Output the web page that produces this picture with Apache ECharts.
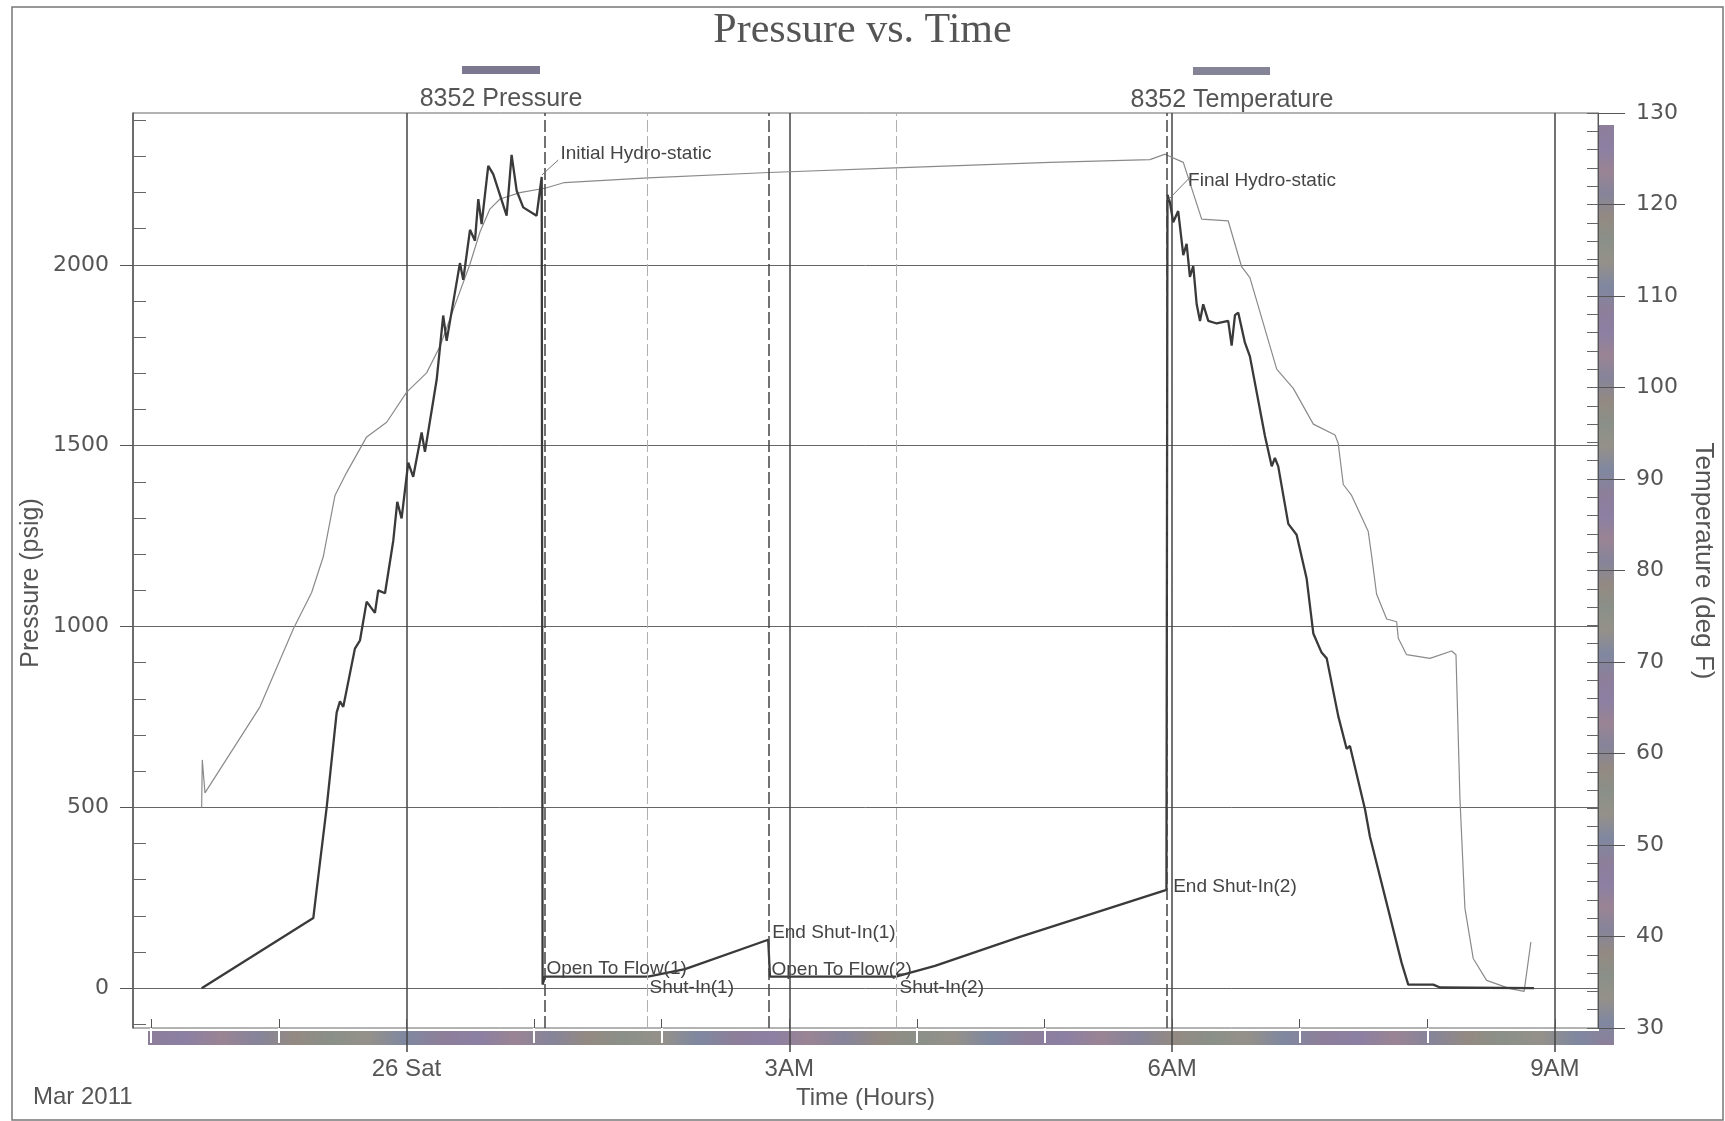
<!DOCTYPE html>
<html><head><meta charset="utf-8">
<script src="https://cdn.jsdelivr.net/npm/echarts/dist/echarts.min.js"></script>
<style>html,body{margin:0;padding:0;background:#fff}#c{width:1725px;height:1121px}</style>
</head><body><div id="c"></div>
<script>
// ---- time in hours relative to 26 Mar 2011 00:00 ----
const pressureTime = [-1.605,-0.730,-0.704,-0.625,-0.547,-0.521,-0.495,-0.404,-0.364,-0.312,-0.247,-0.221,-0.168,-0.103,-0.072,-0.038,0.014,0.053,0.119,0.145,0.237,0.288,0.315,0.419,0.445,0.498,0.537,0.563,0.589,0.641,0.680,0.785,0.824,0.864,0.915,1.020,1.060,1.067,1.085,1.893,2.183,2.835,2.849,3.836,4.142,4.808,5.956,5.964,5.984,6.009,6.048,6.088,6.114,6.140,6.166,6.193,6.219,6.244,6.284,6.350,6.440,6.467,6.493,6.519,6.571,6.610,6.728,6.781,6.806,6.832,6.911,6.976,7.055,7.107,7.172,7.212,7.302,7.368,7.394,7.512,7.551,7.799,7.851,8.047,8.100,8.836];
const pressureValue = [0,194,271,501,762,793,778,939,962,1069,1038,1100,1092,1238,1345,1299,1453,1414,1537,1483,1683,1860,1790,2005,1959,2097,2067,2182,2113,2274,2251,2136,2304,2205,2159,2136,2243,10,32,32,53,134,32,32,62,142,272,2194,2172,2118,2149,2027,2058,1967,1997,1891,1845,1891,1845,1838,1845,1777,1861,1868,1785,1747,1527,1443,1466,1443,1284,1254,1132,981,928,912,753,662,670,495,419,70,10,10,2,0];

const tempTime = [-1.605,-1.600,-1.579,-1.148,-0.887,-0.743,-0.652,-0.560,-0.469,-0.312,-0.155,0.002,0.158,0.263,0.380,0.498,0.576,0.654,0.733,0.889,1.093,1.238,1.893,2.841,3.828,5.043,5.827,5.945,6.088,6.232,6.440,6.545,6.610,6.820,6.950,7.107,7.277,7.302,7.342,7.407,7.537,7.564,7.603,7.682,7.760,7.773,7.838,8.021,8.191,8.225,8.256,8.295,8.360,8.465,8.647,8.759,8.812];
const tempValue = [54.1,59.3,55.7,65.1,73.6,77.6,81.5,88.2,90.7,94.6,96.2,99.5,101.6,104.5,109.0,113.5,117.0,119.5,120.6,121.3,121.8,122.4,122.9,123.5,124.0,124.6,124.9,125.5,124.6,118.4,118.2,113.2,112.0,102.0,99.9,96.0,94.8,93.9,89.4,88.2,84.3,81.6,77.4,74.7,74.4,72.6,70.8,70.4,71.2,70.8,55.1,43.1,37.6,35.2,34.3,34.0,39.4];

// test events (vertical dashed lines)
const eventNames = ['Open To Flow(1)','Shut-In(1)','End Shut-In(1)','Shut-In(2)','End Shut-In(2)'];
const eventTimes = [1.085,1.893,2.844,3.836,5.960];

// annotation texts and anchors (hours, psig)
const annotLabels = ['Initial Hydro-static','Final Hydro-static','Open To Flow(1)','Shut-In(1)','End Shut-In(1)','Open To Flow(2)','Shut-In(2)','End Shut-In(2)'];
const annotTimes  = [1.195,6.114,1.085,1.893,2.854,2.849,3.852,5.997];
const annotValues = [2306,2234,54,2,152,52,2,281];
// leader lines: from data point to label
const leaderFromTime = [1.062,5.970], leaderFromValue = [2249,2180];
const leaderToTime   = [1.190,6.154], leaderToValue   = [2290,2247];

// axis ticks / labels
const xLabelValues = [0,3,6,9];
const xLabelTexts  = ['26 Sat','3AM','6AM','9AM'];
const xHourTicks   = [-2,-1,0,1,2,3,4,5,6,7,8,9];
const xGapTicks    = [-2,-1,1,2,4,5,7,8];
const pressureLabels = [0,500,1000,1500,2000];
const tempLabels = [30,40,50,60,70,80,90,100,110,120,130];

function range(a,b,s){const r=[];for(let v=a;v<=b+1e-9;v+=s)r.push(+v.toFixed(4));return r;}
const pressureMinor = range(-100,2400,100);
const tempMinor = range(30,130,2);

const X_MIN=-2.143, X_MAX=9.338, P_MIN=-110, P_MAX=2420, T_MIN=30, T_MAX=130;
const TXT='#555', FONT='Liberation Sans', NUMFONT='DejaVu Sans';

const chart = echarts.init(document.getElementById('c'));

const pressureData = pressureTime.map((t,i)=>[t,pressureValue[i]]);
const tempData = tempTime.map((t,i)=>[t,tempValue[i]]);

const baseX = {type:'value',min:X_MIN,max:X_MAX,position:'bottom',axisLine:{show:false,onZero:false},splitLine:{show:false},axisLabel:{show:false}};
const baseP = {type:'value',min:P_MIN,max:P_MAX,position:'left',axisLine:{show:false,onZero:false},splitLine:{show:false},axisLabel:{show:false}};
const baseT = {type:'value',min:T_MIN,max:T_MAX,position:'right',axisLine:{show:false,onZero:false},splitLine:{show:false},axisLabel:{show:false}};

const colorStops = [];
const cbColors = ['#8d7f9a','#8a9088','#9a8494','#7f88a0','#938a82','#8b7fa3','#95918a','#86849a'];
for(let i=0;i<=40;i++) colorStops.push({offset:i/40,color:cbColors[(i*5)%cbColors.length]});
const cbGradH = new echarts.graphic.LinearGradient(0,0,1,0,colorStops);
const cbGradV = new echarts.graphic.LinearGradient(0,0,0,1,colorStops);

chart.setOption({
  animation:false,
  backgroundColor:'#fff',
  title:{text:'Pressure vs. Time',left:'center',top:5,textStyle:{fontFamily:'Liberation Serif',fontSize:42,fontWeight:'normal',color:TXT}},
  grid:{left:133,right:127,top:113,bottom:93,show:true,borderColor:'#666',borderWidth:1},
  graphic:[
    {type:'rect',z:-10,shape:{x:12,y:7,width:1711,height:1113},style:{fill:'none',stroke:'#777',lineWidth:1.5},silent:true},
    {type:'rect',z:-10,shape:{x:148,y:1031,width:1466,height:14},style:{fill:cbGradH},silent:true},
    {type:'rect',z:-10,shape:{x:1599,y:125,width:15,height:920},style:{fill:cbGradV},silent:true},
    {type:'rect',shape:{x:462,y:66,width:78,height:8},style:{fill:'#7b7890'},silent:true},
    {type:'text',x:501,y:99,style:{text:'8352 Pressure',font:'25px "Liberation Sans"',fill:TXT,textAlign:'center',textVerticalAlign:'middle'}},
    {type:'rect',shape:{x:1193,y:67,width:77,height:8},style:{fill:'#858396'},silent:true},
    {type:'text',x:1232,y:100,style:{text:'8352 Temperature',font:'25px "Liberation Sans"',fill:TXT,textAlign:'center',textVerticalAlign:'middle'}},
    {type:'text',x:33,y:1097,style:{text:'Mar 2011',font:'24px "Liberation Sans"',fill:TXT,textAlign:'left',textVerticalAlign:'middle'}},
    {type:'text',x:31,y:583,rotation:Math.PI/2,style:{text:'Pressure (psig)',font:'25px "Liberation Sans"',fill:TXT,textAlign:'center',textVerticalAlign:'middle'}},
    {type:'text',x:1703,y:561,rotation:-Math.PI/2,style:{text:'Temperature (deg F)',font:'26px "Liberation Sans"',fill:TXT,textAlign:'center',textVerticalAlign:'middle'}}
  ],
  xAxis:[
    Object.assign({},baseX,{
      axisTick:{show:true,inside:true,length:9,customValues:xHourTicks,lineStyle:{color:'#555',width:1}},
      axisLabel:{show:true,customValues:xLabelValues,margin:29,fontFamily:FONT,fontSize:24,color:TXT,
        formatter:v=>{const i=xLabelValues.indexOf(Math.round(v));return i>=0?xLabelTexts[i]:'';}},
      name:'Time (Hours)',nameLocation:'middle',nameGap:58,nameTextStyle:{fontFamily:FONT,fontSize:24,color:TXT}
    }),
    Object.assign({},baseX,{
      axisTick:{show:true,inside:false,length:24,customValues:xLabelValues,lineStyle:{color:'#444',width:1.5}},
      splitLine:{show:true,lineStyle:{color:'#444',width:1.5}}
    }),
    Object.assign({},baseX,{
      axisTick:{show:true,inside:false,length:15,customValues:xGapTicks,lineStyle:{color:'#fff',width:2}}
    })
  ],
  yAxis:[
    Object.assign({},baseP,{
      axisLine:{show:true,onZero:false,lineStyle:{color:'#555',width:1.5}},
      axisTick:{show:true,inside:false,length:13,customValues:pressureLabels,lineStyle:{color:'#555'}},
      splitLine:{show:true,lineStyle:{color:'#666',width:1}},
      axisLabel:{show:true,customValues:pressureLabels,margin:24,fontFamily:NUMFONT,fontSize:22,color:TXT,formatter:v=>String(v)}
    }),
    Object.assign({},baseP,{
      axisTick:{show:true,inside:true,length:13,customValues:pressureMinor,lineStyle:{color:'#666'}}
    }),
    Object.assign({},baseT,{
      axisLine:{show:true,onZero:false,lineStyle:{color:'#555',width:1}},
      axisTick:{show:true,inside:false,length:27,customValues:tempLabels,lineStyle:{color:'#555'}},
      axisLabel:{show:true,customValues:tempLabels,margin:38,fontFamily:NUMFONT,fontSize:22,color:TXT,formatter:v=>String(v)}
    }),
    Object.assign({},baseT,{
      axisTick:{show:true,inside:true,length:11,customValues:tempMinor,lineStyle:{color:'#666'}}
    })
  ],
  series:[
    {
      name:'8352 Temperature',type:'line',xAxisIndex:0,yAxisIndex:2,data:tempData,showSymbol:false,
      lineStyle:{color:'#8a8a8a',width:1.2},z:3
    },
    {
      name:'8352 Pressure',type:'line',xAxisIndex:0,yAxisIndex:0,data:pressureData,showSymbol:false,
      lineStyle:{color:'#3a3a3a',width:2.3},z:4,
      markLine:{
        silent:true,symbol:'none',label:{show:false},animation:false,
        data:eventTimes.map((t,i)=>({xAxis:t,lineStyle:{color:eventNames[i].indexOf('Shut-In')===0?'#b0b0b0':'#444',type:[12,4],width:eventNames[i].indexOf('Shut-In')===0?1:1.5}}))
          .concat(leaderFromTime.map((t,i)=>[{coord:[t,leaderFromValue[i]],lineStyle:{color:'#777',width:1,type:'solid'}},{coord:[leaderToTime[i],leaderToValue[i]]}]))
      }
    },
    {
      name:'annotations',type:'scatter',xAxisIndex:0,yAxisIndex:0,symbolSize:1,itemStyle:{color:'rgba(0,0,0,0)'},silent:true,z:5,
      data:annotTimes.map((t,i)=>[t,annotValues[i]]),
      label:{show:true,position:'right',distance:1,formatter:p=>annotLabels[p.dataIndex],fontFamily:FONT,fontSize:19,color:'#444',opacity:1}
    }
  ]
});
</script></body></html>
